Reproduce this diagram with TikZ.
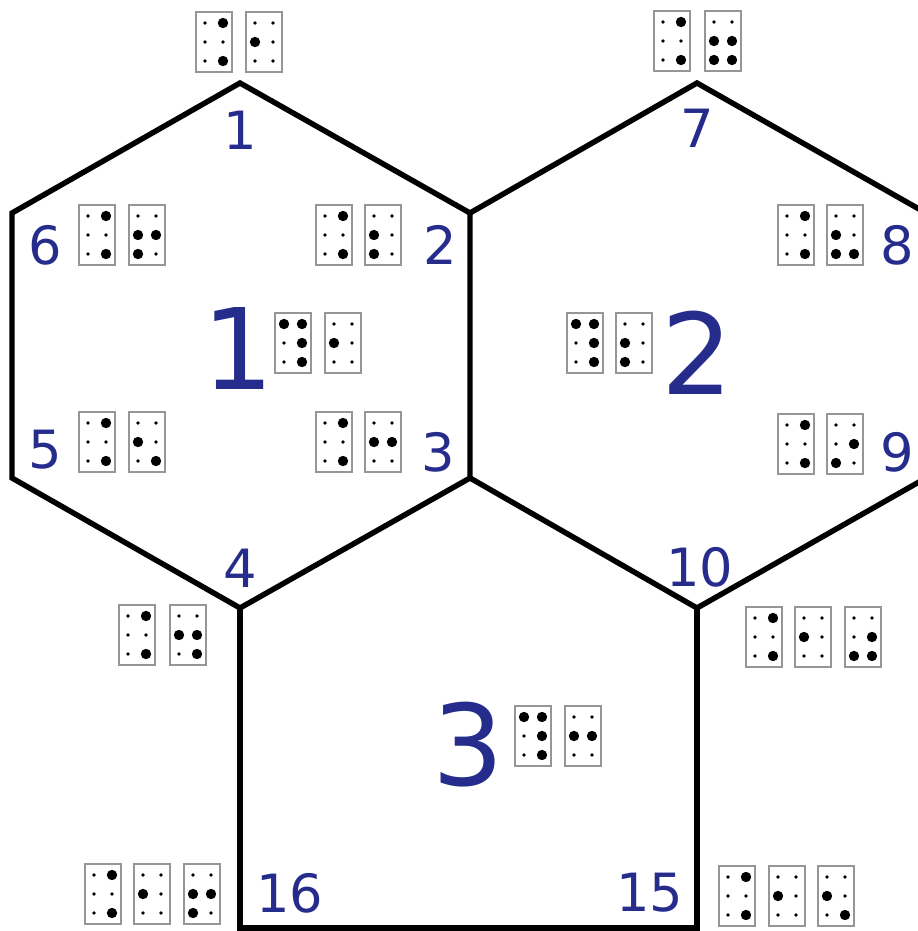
\documentclass[tikz,border=0pt]{standalone}
\usepackage{fontspec}
\setmainfont{DejaVu Sans}
\usetikzlibrary{positioning}
\definecolor{LabelBlue}{RGB}{38,44,140}
\definecolor{CellGray}{RGB}{150,150,150}
\tikzset{
  pics/brl/.style={code={
    \draw[CellGray,line width=1pt,fill=white] (-18,-30) rectangle (18,30);
    \coordinate (d1) at (-9,-19);
    \coordinate (d2) at (-9,0);
    \coordinate (d3) at (-9,19);
    \coordinate (d4) at (9,-19);
    \coordinate (d5) at (9,0);
    \coordinate (d6) at (9,19);
    \foreach \d in {1,...,6} \fill (d\d) circle (1.05pt);
    \foreach \d in {#1} \fill (d\d) circle (2.95pt);
  }}
}

\begin{document}
\begin{tikzpicture}[x=0.02cm,y=-0.02cm,
  wall/.style={line width=3.1pt,line join=miter},
  lbl/.style={text=LabelBlue,inner sep=0pt,font=\fontsize{30}{30}\selectfont},
  biglbl/.style={text=LabelBlue,inner sep=0pt,font=\fontsize{64}{64}\selectfont}]
\useasboundingbox (0,0) rectangle (918,931);
\clip (0,0) rectangle (918,931);

\coordinate (v1) at (240,83);
\coordinate (v2) at (470,213);
\coordinate (v3) at (470,478);
\coordinate (v4) at (240,608);
\coordinate (v5) at (12,478);
\coordinate (v6) at (12,213);
\coordinate (v7) at (697,83);
\coordinate (v8) at (926,213);
\coordinate (v9) at (926,478);
\coordinate (v10) at (697,608);
\coordinate (v15) at (697,928);
\coordinate (v16) at (240,928);

\draw[wall] (v1) -- (v2) -- (v3) -- (v4) -- (v5) -- (v6) -- cycle;
\draw[wall] (v2) -- (v7) -- (v8) -- (v9) -- (v10) -- (v3);
\draw[wall] (v4) -- (v16) -- (v15) -- (v10);

\node[lbl] (n1) at (240,130) {1};
\node[lbl] (n2) at (440,245) {2};
\node[lbl] (n3) at (438,452) {3};
\node[lbl] (n4) at (240,568) {4};
\node[lbl] (n5) at (45,450) {5};
\node[lbl] (n6) at (45,245) {6};
\node[lbl] (n7) at (697,128) {7};
\node[lbl] (n8) at (897,245) {8};
\node[lbl] (n9) at (897,452) {9};
\node[lbl] (n10) at (700,567) {10};
\node[lbl] (n15) at (650,893) {15};
\node[lbl] (n16) at (290,893) {16};

\node[biglbl] (r1) at (238,349) {1};
\node[biglbl] (r2) at (697,353) {2};
\node[biglbl] (r3) at (468,745) {3};

\pic at (214,42) {brl={4,6}};
\pic at (264,42) {brl={2}};
\pic at (672,41) {brl={4,6}};
\pic at (723,41) {brl={2,3,5,6}};
\pic at (97,235) {brl={4,6}};
\pic at (147,235) {brl={2,3,5}};
\pic at (334,235) {brl={4,6}};
\pic at (383,235) {brl={2,3}};
\pic at (796,235) {brl={4,6}};
\pic at (845,235) {brl={2,3,6}};
\pic at (293,343) {brl={1,4,5,6}};
\pic at (343,343) {brl={2}};
\pic at (585,343) {brl={1,4,5,6}};
\pic at (634,343) {brl={2,3}};
\pic at (97,442) {brl={4,6}};
\pic at (147,442) {brl={2,6}};
\pic at (334,442) {brl={4,6}};
\pic at (383,442) {brl={2,5}};
\pic at (796,444) {brl={4,6}};
\pic at (845,444) {brl={3,5}};
\pic at (137,635) {brl={4,6}};
\pic at (188,635) {brl={2,5,6}};
\pic at (764,637) {brl={4,6}};
\pic at (813,637) {brl={2}};
\pic at (863,637) {brl={3,5,6}};
\pic at (533,736) {brl={1,4,5,6}};
\pic at (583,736) {brl={2,5}};
\pic at (103,894) {brl={4,6}};
\pic at (152,894) {brl={2}};
\pic at (202,894) {brl={2,3,5}};
\pic at (737,896) {brl={4,6}};
\pic at (787,896) {brl={2}};
\pic at (836,896) {brl={2,6}};
\end{tikzpicture}
\end{document}
